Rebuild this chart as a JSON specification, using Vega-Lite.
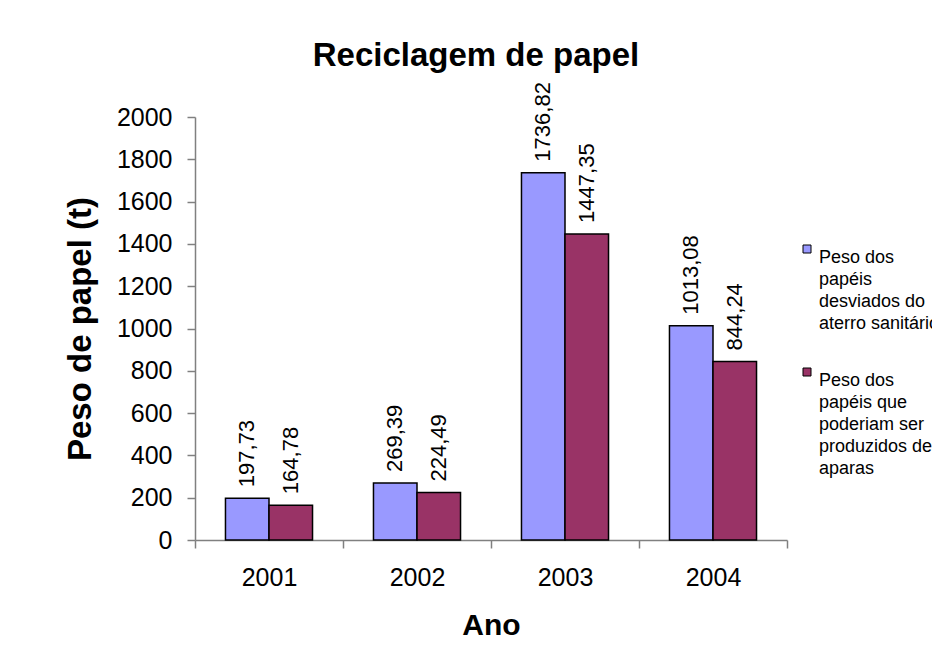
{
  "$schema": "https://vega.github.io/schema/vega-lite/v6.json",
  "width": 592,
  "height": 423,
  "autosize": {"type": "none"},
  "padding": {"left": 195, "top": 117, "right": 145, "bottom": 113},
  "background": "white",
  "config": {
    "locale": {"number": {"decimal": ",", "thousands": ".", "grouping": [3], "currency": ["", ""]}},
    "view": {"stroke": null},
    "font": "Liberation Sans",
    "style": {"guide-label": {"lineHeight": 22}}
  },
  "title": {
    "text": "Reciclagem de papel",
    "font": "Liberation Sans",
    "fontSize": 33,
    "fontWeight": "bold",
    "color": "black",
    "anchor": "middle",
    "dx": -15,
    "offset": 9
  },
  "data": {
    "values": [
      {"ano": "2001", "serie": "Peso dos papéis desviados do aterro sanitário", "peso": 197.73},
      {"ano": "2001", "serie": "Peso dos papéis que poderiam ser produzidos de aparas", "peso": 164.78},
      {"ano": "2002", "serie": "Peso dos papéis desviados do aterro sanitário", "peso": 269.39},
      {"ano": "2002", "serie": "Peso dos papéis que poderiam ser produzidos de aparas", "peso": 224.49},
      {"ano": "2003", "serie": "Peso dos papéis desviados do aterro sanitário", "peso": 1736.82},
      {"ano": "2003", "serie": "Peso dos papéis que poderiam ser produzidos de aparas", "peso": 1447.35},
      {"ano": "2004", "serie": "Peso dos papéis desviados do aterro sanitário", "peso": 1013.08},
      {"ano": "2004", "serie": "Peso dos papéis que poderiam ser produzidos de aparas", "peso": 844.24}
    ]
  },
  "encoding": {
    "x": {
      "field": "ano",
      "type": "nominal",
      "scale": {"paddingInner": 0, "paddingOuter": 0},
      "axis": {
        "title": "Ano",
        "titleFont": "Liberation Sans",
        "titleFontSize": 30,
        "titleFontWeight": "bold",
        "titleColor": "black",
        "titlePadding": 20,
        "labelAngle": 0,
        "labelFont": "Liberation Sans",
        "labelFontSize": 25,
        "labelColor": "black",
        "labelPadding": 17,
        "tickBand": "extent",
        "tickSize": 8,
        "tickColor": "#808080",
        "tickWidth": 1.5,
        "domainColor": "#808080",
        "domainWidth": 1.5
      }
    },
    "xOffset": {
      "field": "serie",
      "type": "nominal",
      "sort": ["Peso dos papéis desviados do aterro sanitário", "Peso dos papéis que poderiam ser produzidos de aparas"],
      "scale": {"paddingInner": 0, "paddingOuter": 0.7}
    },
    "y": {
      "field": "peso",
      "type": "quantitative",
      "scale": {"domain": [0, 2000], "nice": false},
      "axis": {
        "title": "Peso de papel (t)",
        "titleFont": "Liberation Sans",
        "titleFontSize": 33,
        "titleFontWeight": "bold",
        "titleColor": "black",
        "titlePadding": 19,
        "values": [0, 200, 400, 600, 800, 1000, 1200, 1400, 1600, 1800, 2000],
        "format": "d",
        "grid": false,
        "labelFont": "Liberation Sans",
        "labelFontSize": 25,
        "labelColor": "black",
        "labelPadding": 15,
        "tickSize": 8,
        "tickColor": "#808080",
        "tickWidth": 1.5,
        "domainColor": "#808080",
        "domainWidth": 1.5
      }
    }
  },
  "layer": [
    {
      "mark": {"type": "bar", "stroke": "black", "strokeWidth": 1.5},
      "encoding": {
        "color": {
          "field": "serie",
          "type": "nominal",
          "sort": ["Peso dos papéis desviados do aterro sanitário", "Peso dos papéis que poderiam ser produzidos de aparas"],
          "scale": {"range": ["#9999FF", "#993366"]},
          "legend": {
            "title": null,
            "orient": "none",
            "legendX": 603,
            "legendY": 123,
            "padding": 0,
            "symbolType": "square",
            "symbolSize": 64,
            "symbolStrokeColor": "black",
            "symbolStrokeWidth": 1,
            "labelFont": "Liberation Sans",
            "labelFontSize": 18,
            "labelColor": "black",
            "labelBaseline": "top",
            "labelLimit": 300,
            "labelOffset": 3,
            "rowPadding": 30,
            "labelExpr": "datum.label == 'Peso dos papéis desviados do aterro sanitário' ? ['Peso dos', 'papéis', 'desviados do', 'aterro sanitário'] : ['Peso dos', 'papéis que', 'poderiam ser', 'produzidos de', 'aparas']"
          }
        }
      }
    },
    {
      "mark": {"type": "text", "angle": 270, "align": "left", "baseline": "middle", "dx": 11, "font": "Liberation Sans", "fontSize": 22, "color": "black"},
      "encoding": {
        "text": {"field": "peso", "type": "quantitative", "format": ".2f"}
      }
    }
  ]
}
